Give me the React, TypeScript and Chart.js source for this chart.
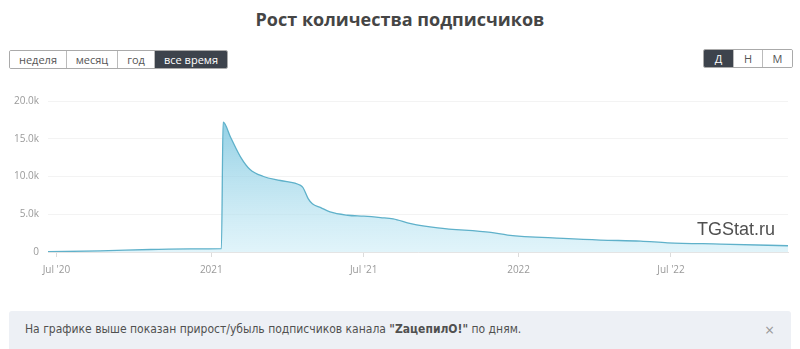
import React, { useEffect, useRef } from "react";
import { Chart, registerables } from "chart.js";

Chart.register(...registerables);

// ---- data ----
const pointDates = [
  "2020-06-21", "2020-08-22", "2020-10-21", "2020-12-07", "2021-01-13",
  "2021-01-15", "2021-01-24", "2021-02-05", "2021-02-16", "2021-03-04",
  "2021-03-24", "2021-04-17", "2021-04-20", "2021-04-26", "2021-05-01",
  "2021-05-11", "2021-05-22", "2021-06-12", "2021-07-01", "2021-07-21",
  "2021-08-05", "2021-08-26", "2021-09-27", "2021-11-29", "2021-12-19",
  "2022-02-23", "2022-04-08", "2022-05-26", "2022-06-27", "2022-08-29",
  "2022-11-17",
];
const subscribers = [
  30, 150, 330, 420, 450,
  17200, 15170, 12540, 10920, 10000,
  9470, 8820, 8510, 7070, 6400,
  5880, 5300, 4870, 4740, 4560,
  4400, 3770, 3200, 2590, 2240,
  1800, 1580, 1450, 1220, 1050,
  830,
];
const xTickDates = ["2020-07-01", "2021-01-01", "2021-07-01", "2022-01-01", "2022-07-01"];
const xTickLabels = ["Jul '20", "2021", "Jul '21", "2022", "Jul '22"];
const yTicks = [0, 5000, 10000, 15000, 20000];

const toTime = (s: string) => {
  const [y, m, d] = s.split("-").map(Number);
  return Date.UTC(y, m - 1, d);
};

const FONT = "'Open Sans', 'Noto Sans', sans-serif";

function ChartCanvas() {
  const ref = useRef<HTMLCanvasElement | null>(null);
  useEffect(() => {
    if (!ref.current) return;
    const data = pointDates.map((d, i) => ({ x: toTime(d), y: subscribers[i] }));
    const tickTimes = xTickDates.map(toTime);
    const chart = new Chart(ref.current, {
      type: "line",
      data: {
        datasets: [
          {
            data,
            borderColor: "#5fb1ca",
            borderWidth: 1.3,
            pointRadius: 0,
            cubicInterpolationMode: "monotone",
            fill: "origin",
            backgroundColor: (ctx: any) => {
              const c = ctx.chart;
              const a = c.chartArea;
              if (!a) return "rgba(150,210,230,0.5)";
              const g = c.ctx.createLinearGradient(0, a.top + 20, 0, a.bottom);
              g.addColorStop(0, "rgba(120,196,222,0.8)");
              g.addColorStop(1, "rgba(200,235,246,0.55)");
              return g;
            },
          },
        ],
      },
      options: {
        animation: false,
        responsive: true,
        maintainAspectRatio: false,
        layout: { padding: { left: 0, right: 12, top: 10, bottom: 0 } },
        plugins: { legend: { display: false }, tooltip: { enabled: false } },
        scales: {
          x: {
            type: "linear",
            min: toTime(pointDates[0]),
            max: toTime(pointDates[pointDates.length - 1]),
            afterBuildTicks: (axis: any) => {
              axis.ticks = tickTimes.map((v) => ({ value: v }));
            },
            afterFit: (s: any) => {
              s.height = 33;
            },
            ticks: {
              autoSkip: false,
              maxRotation: 0,
              padding: 7,
              color: "#9a9a9a",
              font: { family: FONT, size: 10 },
              callback: (v: any) => {
                const i = tickTimes.indexOf(Number(v));
                return i >= 0 ? xTickLabels[i] : "";
              },
            },
            grid: { drawOnChartArea: false, drawTicks: true, tickLength: 5, color: "#dcdcdc" },
            border: { display: true, color: "#e4e4e4" },
          },
          y: {
            min: 0,
            max: 20000,
            afterBuildTicks: (axis: any) => {
              axis.ticks = yTicks.map((v) => ({ value: v }));
            },
            afterFit: (s: any) => {
              s.width = 48;
            },
            ticks: {
              padding: 9,
              color: "#9a9a9a",
              font: { family: FONT, size: 10 },
              callback: (v: any) => (Number(v) === 0 ? "0" : (Number(v) / 1000).toFixed(1) + "k"),
            },
            grid: { drawTicks: false, color: "#f3f3f3" },
            border: { display: false },
          },
        },
      },
    } as any);
    return () => chart.destroy();
  }, []);
  return <canvas ref={ref} />;
}

const btnBase: React.CSSProperties = {
  display: "inline-flex",
  alignItems: "center",
  justifyContent: "center",
  height: 17,
  fontSize: 11,
  fontFamily: FONT,
  color: "#555",
  background: "#fff",
  borderRight: "1px solid #bbb",
  boxSizing: "border-box",
};

function BtnGroup({ items, widths, active, left, top }: any) {
  return (
    <div
      style={{
        position: "absolute",
        left,
        top,
        display: "flex",
        border: "1px solid #aaa",
        borderRadius: 2,
        overflow: "hidden",
      }}
    >
      {items.map((t: string, i: number) => (
        <div
          key={t}
          style={{
            ...btnBase,
            width: widths[i],
            background: i === active ? "#3d434c" : "#fff",
            color: i === active ? "#fff" : "#555",
            borderRight: i === items.length - 1 ? "none" : "1px solid #bbb",
          }}
        >
          {t}
        </div>
      ))}
    </div>
  );
}

export default function App() {
  return (
    <div
      style={{
        position: "fixed",
        left: 0,
        top: 0,
        width: 800,
        height: 349,
        background: "#fff",
        overflow: "hidden",
        fontFamily: FONT,
      }}
    >
      <div
        style={{
          position: "absolute",
          left: 0,
          width: 800,
          top: 7,
          textAlign: "center",
          fontSize: 18,
          fontWeight: 700,
          color: "#454545",
        }}
      >
        Рост количества подписчиков
      </div>
      <BtnGroup items={["неделя", "месяц", "год", "все время"]} widths={[57, 51, 37, 72]} active={3} left={9} top={50} />
      <BtnGroup items={["Д", "Н", "М"]} widths={[30, 29, 29]} active={0} left={703} top={49} />
      <div style={{ position: "absolute", left: 0, top: 86, width: 800, height: 199 }}>
        <ChartCanvas />
      </div>
      <div
        style={{
          position: "absolute",
          left: 697,
          top: 219,
          fontSize: 18,
          fontFamily: "'Liberation Sans', Arial, sans-serif",
          color: "#505050",
        }}
      >
        TGStat.ru
      </div>
      <div
        style={{
          position: "absolute",
          left: 9,
          top: 311,
          width: 782,
          height: 45,
          background: "#edf0f5",
          borderRadius: 3,
        }}
      >
        <div
          style={{
            position: "absolute",
            left: 16,
            top: 11,
            fontSize: 12,
            fontFamily: "'Liberation Sans Narrow', 'DejaVu Sans Condensed', sans-serif",
            color: "#505050",
            whiteSpace: "nowrap",
          }}
        >
          На графике выше показан прирост/убыль подписчиков канала <b>"ZaцепилО!"</b> по дням.
        </div>
        <div style={{ position: "absolute", left: 756, top: 8, fontSize: 16, color: "#999" }}>×</div>
      </div>
    </div>
  );
}
